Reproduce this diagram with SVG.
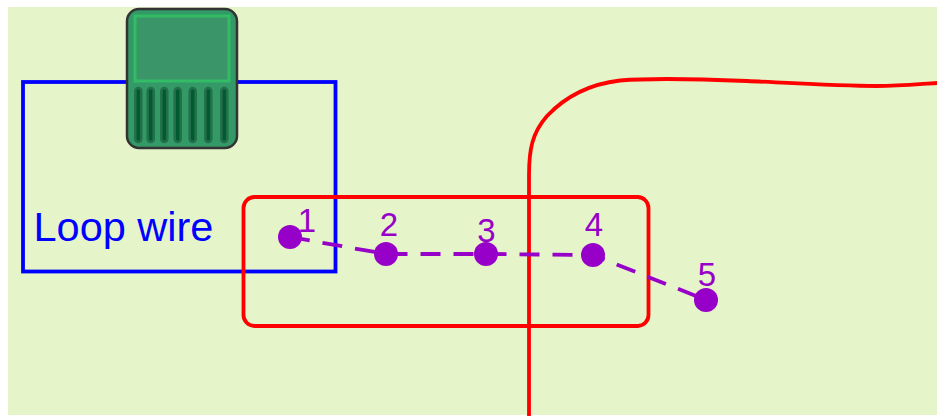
<svg xmlns="http://www.w3.org/2000/svg" width="937" height="416" viewBox="0 0 937 416">
<style>
.num{font-family:"Liberation Sans",Arial,sans-serif;font-size:33px;fill:#9600c8;text-anchor:middle}
.dot{fill:#9600c8}
.slot{fill:#005c2e;stroke:#246f4c;stroke-width:2.500}
.red{fill:none;stroke:#ff0000;stroke-width:3.800}
</style>
<rect x="0" y="0" width="937" height="416" fill="#ffffff"/>
<rect x="8" y="7" width="929" height="408" fill="#e6f5c9"/>
<g id="loop-wire">
<rect x="23" y="82" width="312.500" height="189.500" fill="none" stroke="#0000ff" stroke-width="3.800"/>
<text x="33.500" y="241" font-family="'Liberation Sans',Arial,sans-serif" font-size="41.500" fill="#0000ff">Loop wire</text>
</g>
<g id="controller">
<rect x="127" y="9" width="110" height="139" rx="12" fill="#339966" stroke="#333333" stroke-width="2.500"/>
<rect x="135" y="16" width="94" height="65" fill="#3a9568" stroke="#33bb66" stroke-width="3"/>
<rect class="slot" x="135.300" y="88" width="6" height="54" rx="3"/>
<rect class="slot" x="147.700" y="88" width="6" height="54" rx="3"/>
<rect class="slot" x="161.300" y="88" width="6" height="54" rx="3"/>
<rect class="slot" x="174.700" y="88" width="6" height="54" rx="3"/>
<rect class="slot" x="189.700" y="88" width="6" height="54" rx="3"/>
<rect class="slot" x="205.300" y="88" width="6" height="54" rx="3"/>
<rect class="slot" x="221.300" y="88" width="6" height="54" rx="3"/>
</g>
<g id="zone">
<rect class="red" x="243.500" y="197" width="405" height="129" rx="11"/>
</g>
<g id="connectors">
<path class="red" d="M529 416 L529 175 C529 150 532 133 547 116 C565 97 590 84 620 80.500 C650 78 700 79 747 81 C790 83 840 86 877 86 C900 86 920 84 937 83"/>
<path d="M290 237 L386 254 L486 254 L593 255 L706 300" fill="none" stroke="#9600c8" stroke-width="3.800" stroke-dasharray="20 13"/>
</g>
<g id="point-1"><circle class="dot" cx="290" cy="237" r="12"/><text class="num" x="307" y="232">1</text></g>
<g id="point-2"><circle class="dot" cx="386" cy="254" r="12"/><text class="num" x="389" y="236">2</text></g>
<g id="point-3"><circle class="dot" cx="486" cy="254" r="12"/><text class="num" x="486.500" y="242">3</text></g>
<g id="point-4"><circle class="dot" cx="593" cy="255" r="12"/><text class="num" x="594" y="235.500">4</text></g>
<g id="point-5"><circle class="dot" cx="706" cy="300" r="12"/><text class="num" x="707" y="285.500">5</text></g>
</svg>
